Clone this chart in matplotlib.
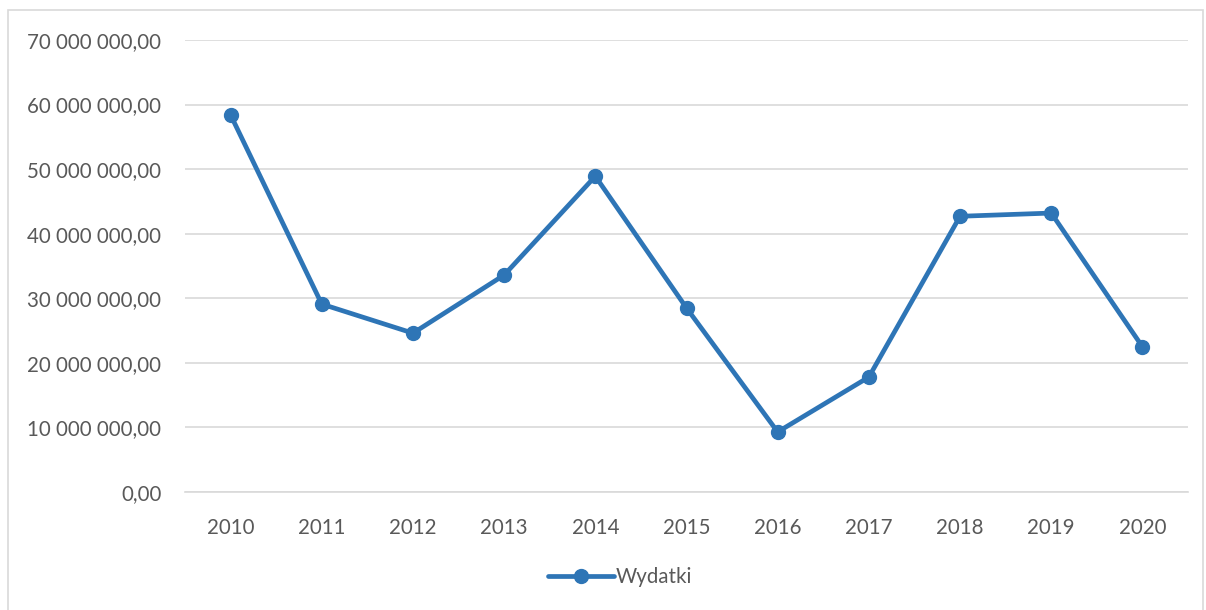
import matplotlib
matplotlib.use('Agg')
import matplotlib.pyplot as plt
from matplotlib.patches import Rectangle
from matplotlib.ticker import FuncFormatter

plt.rcParams['font.family'] = ['Lato', 'DejaVu Sans']

years = ['2010', '2011', '2012', '2013', '2014', '2015', '2016', '2017', '2018', '2019', '2020']
wydatki = [58.4e6, 29.1e6, 24.6e6, 33.6e6, 48.9e6, 28.5e6, 9.3e6, 17.8e6, 42.7e6, 43.2e6, 22.5e6]

W, H = 1206, 610
fig = plt.figure(figsize=(W / 100, H / 100), dpi=100)
ax = fig.add_axes([185 / W, 1 - 492 / H, (1188 - 185) / W, (492 - 40) / H])

# ramka wokol wykresu
fig.patches.append(Rectangle((8 / W, -0.01), (1203 - 8) / W, 1 - 10 / H + 0.01,
                             transform=fig.transFigure, fill=False,
                             edgecolor='#d9d9d9', linewidth=1.2))

x = list(range(len(years)))
ax.plot(x, wydatki, color='#2e75b6', linewidth=3.4, marker='o', markersize=10,
        label='Wydatki', solid_capstyle='round')

ax.set_xlim(-0.5, len(years) - 0.5)
ax.set_ylim(0, 70e6)
ax.set_yticks([i * 10e6 for i in range(8)])
ax.set_xticks(x)
ax.set_xticklabels(years)


def fmt(v, pos):
    s = f'{v:,.2f}'.replace(',', ' ').replace('.', ',')
    return s


ax.yaxis.set_major_formatter(FuncFormatter(fmt))
ax.grid(axis='y', color='#d9d9d9', linewidth=1.2)
ax.set_axisbelow(True)
for s in ['top', 'right', 'left']:
    ax.spines[s].set_visible(False)
ax.spines['bottom'].set_color('#d9d9d9')
ax.spines['bottom'].set_linewidth(1.2)
ax.tick_params(axis='both', length=0, labelsize=14.8, colors='#595959')
ax.tick_params(axis='y', pad=17)
ax.tick_params(axis='x', pad=19)

leg = fig.legend(loc='center', bbox_to_anchor=(620 / W, 1 - 577 / H), frameon=False,
                 fontsize=14.8, handlelength=3.2, handletextpad=0.1)
for t in leg.get_texts():
    t.set_color('#595959')

fig.savefig('out.png', dpi=100, facecolor='white')
